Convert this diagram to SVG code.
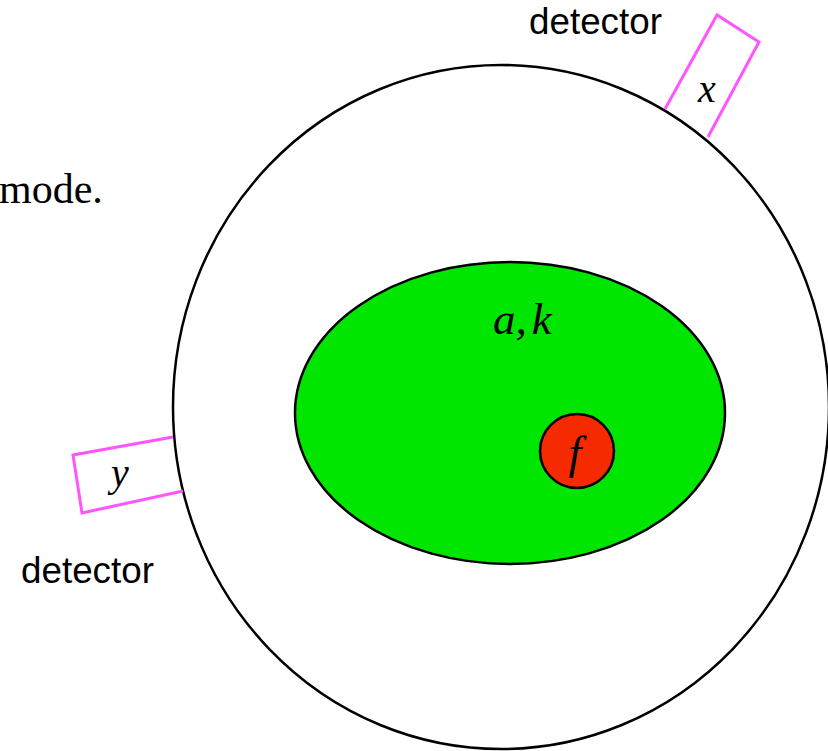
<svg xmlns="http://www.w3.org/2000/svg" width="828" height="751" viewBox="0 0 828 751">
<style>
.outline{fill:none;stroke:#000;stroke-width:2.5}
.det{fill:none;stroke:#ff55ff;stroke-width:3;stroke-linejoin:miter}
.math{font-family:"Liberation Serif","Times New Roman",serif;font-style:italic;fill:#000}
.lbl{font-family:"Liberation Sans",Arial,sans-serif;font-size:36.8px;fill:#000}
.body{font-family:"Liberation Serif","Times New Roman",serif;font-size:42px;fill:#000}
</style>
<rect width="828" height="751" fill="#fff"/>
<text class="body" x="-1" y="203">mode.</text>
<g id="world">
<ellipse class="outline" cx="501" cy="407" rx="328" ry="342" fill="#fff"/>
</g>
<g id="region">
<ellipse cx="510" cy="413" rx="215" ry="151" fill="#00e600" stroke="#000" stroke-width="2.5"/>
<text class="math" x="493" y="334" font-size="45">a<tspan>,</tspan><tspan dx="5">k</tspan></text>
</g>
<g id="f">
<circle cx="577" cy="451" r="37" fill="#f52a00" stroke="#000" stroke-width="2.5"/>
<text class="math" x="575" y="468" font-size="46" text-anchor="middle">f</text>
</g>
<g id="detector-x">
<polyline class="det" points="665,109 717,15 759,42 708,137"/>
<text class="math" x="707" y="102" font-size="40" text-anchor="middle">x</text>
<text class="lbl" x="529" y="34">detector</text>
</g>
<g id="detector-y">
<polyline class="det" points="173,437 73,455 82,513 183,491"/>
<text class="math" x="120" y="486" font-size="40" text-anchor="middle">y</text>
<text class="lbl" x="21" y="583">detector</text>
</g>
</svg>
